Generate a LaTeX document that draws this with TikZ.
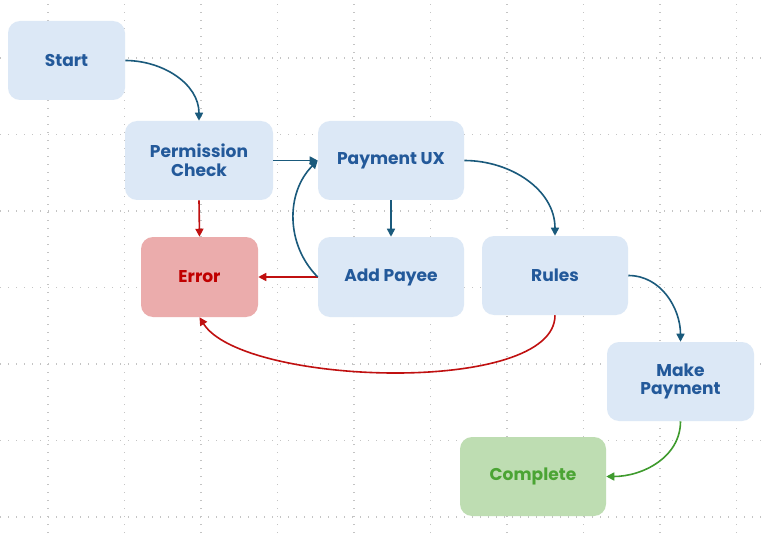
\documentclass[tikz,border=0pt]{standalone}
\usepackage{fontspec}
\setmainfont{Poppins}[BoldFont={* Bold}]
\usetikzlibrary{arrows.meta}
\definecolor{boxblue}{HTML}{DCE8F6}
\definecolor{txtblue}{HTML}{23599A}
\definecolor{arrblue}{HTML}{1A5A7C}
\definecolor{arrred}{HTML}{C01010}
\definecolor{errfill}{HTML}{EBACAC}
\definecolor{errtxt}{HTML}{C00000}
\definecolor{okfill}{HTML}{BEDDB2}
\definecolor{oktxt}{HTML}{4BA434}
\definecolor{arrgreen}{HTML}{3F9B2E}
\definecolor{gridgray}{HTML}{C4C4C4}
\tikzset{
  box/.style={rectangle, rounded corners=9pt, fill=boxblue, text=txtblue,
    font=\bfseries\fontsize{12.8}{14}\selectfont, align=center,
    minimum width=109.5pt, minimum height=59.25pt, inner sep=2pt},
  errbox/.style={box, fill=errfill, text=errtxt},
  okbox/.style={box, fill=okfill, text=oktxt},
  conn/.style={line width=1.2pt, draw=arrblue, -{Triangle[length=6pt,width=6pt]}},
  redconn/.style={conn, draw=arrred},
  greenconn/.style={conn, draw=arrgreen},
  gridline/.style={draw=gridgray, line width=1pt, dash pattern=on 1pt off 5pt}
}
\begin{document}
\begin{tikzpicture}[x=0.75pt,y=0.75pt]
\useasboundingbox (0,0) rectangle (768,533);
\fill[white] (0,0) rectangle (768,533);
% grid
\foreach \i in {0,...,9} {\draw[gridline] ({48+76.5*\i},0) -- ({48+76.5*\i},533);}
\foreach \j in {0,...,6} {\draw[gridline] (0,{533-58-76.5*\j}) -- (768,{533-58-76.5*\j});}
% nodes
\node[box, minimum width=87.75pt] (start) at (66.5,472.5) {Start};
\node[box, minimum width=111pt] (perm) at (199,372.5) {Permission\\Check};
\node[box] (pux) at (391,372.5) {Payment UX};
\node[errbox, minimum width=87.75pt, minimum height=60pt] (err) at (199.5,256) {Error};
\node[box, minimum height=60pt] (add) at (391,256) {Add Payee};
\node[box] (rules) at (555,257.5) {Rules};
\node[box, minimum width=110.25pt] (make) at (680.5,151.5) {Make\\Payment};
\node[okbox] (done) at (533,56.5) {Complete};
% connectors
\draw[conn] (start.east) to[out=0,in=90] (perm.north);
\draw[conn] (perm.east) -- (pux.west);
\draw[redconn] (perm.south) -- (err.north);
\draw[conn] (pux.south) -- (add.north);
\draw[redconn] (add.west) -- (err.east);
\draw[conn] (add.west) to[bend left=45] (pux.west);
\draw[conn] (pux.east) to[out=0,in=90] (rules.north);
\draw[conn] (rules.east) to[out=0,in=90] (make.north);
\draw[redconn] (rules.south) to[out=-90,in=-58,looseness=0.58] (err.south);
\draw[greenconn] (make.south) to[out=-90,in=0] (done.east);
\end{tikzpicture}
\end{document}
